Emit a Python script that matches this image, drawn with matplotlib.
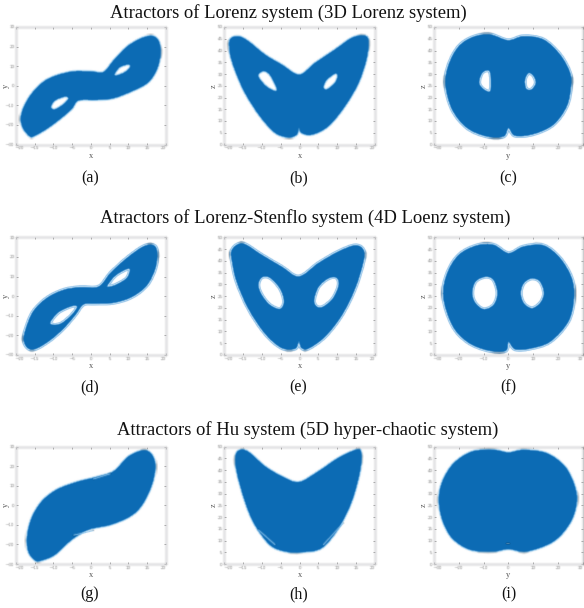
import numpy as np
import matplotlib
matplotlib.use("Agg")
import matplotlib.pyplot as plt
from matplotlib.path import Path
from matplotlib.patches import PathPatch

W, H = 584, 608
plt.rcParams['font.family'] = ['Liberation Serif', 'DejaVu Serif']

titles = ["Atractors of Lorenz system (3D Lorenz system)",
          "Atractors of Lorenz-Stenflo system (4D Loenz system)",
          "Attractors of Hu system (5D hyper-chaotic system)"]
captions = ["(a)", "(b)", "(c)", "(d)", "(e)", "(f)", "(g)", "(h)", "(i)"]
xlabels = ["x", "x", "y"] * 3
ylabels = ["y", "z", "z"] * 3

# outlines: (horizontal value, vertical value)
a_outer = [(-16.25,-25.9),(-18,-22),(-18.7,-16.9),(-17.9,-10.9),(-15.8,-4.1),(-12.7,1.9),(-9.1,5.3),(-4.6,7.3),(-0.2,7.3),(3.4,7),(6.1,12.9),(9.6,19.8),(13.2,24),(16.3,25.4),(18.1,22.8),(18.6,16.4),(17.7,8.7),(15.4,1.9),(11.4,-2.4),(6.1,-6.3),(1.6,-7.2),(-3.3,-7.5),(-5.1,-11.8),(-8.2,-16.9),(-11.8,-22),(-14.9,-25.4)]
a_hole1 = [(-10.7,-10.9),(-9.6,-7.5),(-6.9,-5.5),(-6,-6.6),(-7.3,-9.5),(-9.6,-12.1)]
a_hole2 = [(6.3,5.8),(7.7,9.5),(10.1,10.9),(10.5,9.5),(9.2,7),(7.1,5.3)]

b_outer = [(-18.5,44.6),(-16.3,46),(-13.6,43.9),(-9.2,38.2),(-4.8,34),(-0.1,29.7),(4.1,34.7),(9.4,40.4),(13.8,45.3),(16.9,46.3),(18.2,44.6),(17.8,36.8),(15.6,26.2),(12,16.3),(7.6,7.8),(3.2,4.2),(0.5,5),(-0.2,7.1),(-0.8,4.2),(-3,3.1),(-6.5,5),(-10.5,12),(-14.5,22),(-17.2,31.9),(-18.5,39)]
b_hole1 = [(-11,29.7),(-9.6,31.3),(-7.9,29.7),(-6.1,24.1),(-6.5,22.7),(-8.8,24.6),(-10.5,27.6)]
b_hole2 = [(6.3,24.5),(7.2,27.6),(9.4,30.2),(10.1,29.3),(9.4,26.2),(7.2,23.4)]

c_outer = [(-25.3,25.5),(-24,34),(-19.9,41.8),(-13.9,45.8),(-7.2,46.7),(-0.1,44.3),(6.2,46),(14.2,44.6),(20.9,38.2),(24.9,30.5),(25.3,24.8),(23.6,16.3),(18.2,8.5),(10.2,4.5),(2.8,3.8),(0.1,7.1),(-1.9,3.5),(-8.6,3.5),(-16.6,7.1),(-22.6,14.9)]
c_hole1 = [(-11.8,26.2),(-10.6,30.5),(-7.9,31.6),(-7,29),(-7.2,22.7),(-9.9,23.4)]
c_hole2 = [(6.7,27.6),(8.2,30.5),(10.2,29.3),(11.2,26.2),(9.5,23.4),(7.2,23.7)]

d_outer = [(-16.7,-26.6),(-17.9,-22.4),(-17.3,-16.4),(-15.4,-7.9),(-11.8,-1.1),(-7.3,3.1),(-2.9,4.5),(2.1,4.8),(5.2,11.6),(9.6,19.3),(14.1,25.3),(16.8,25.8),(17.7,21.9),(17.2,14.2),(15,5.7),(11,-0.3),(6.1,-3.3),(1.2,-3.7),(-2,-4.2),(-4.2,-9.6),(-7.3,-16.4),(-10.9,-22.4),(-14.5,-26.6)]
d_hole1 = [(-10.9,-13.4),(-8.7,-8.2),(-5.1,-5),(-3.6,-5.4),(-5.1,-9.6),(-7.8,-13.9),(-10,-14.7)]
d_hole2 = [(4.3,5.2),(6.5,10.5),(9.6,13.9),(10.5,13.4),(9.6,9.1),(7,6),(5.2,4.8)]

e_outer = [(-18.1,43.9),(-16.7,46.7),(-14.5,47),(-10.1,42.5),(-4.8,37.5),(-0.2,33.3),(5,39),(10.3,43.9),(14.7,46.5),(16.9,44.6),(16.9,39.7),(14.7,28.3),(11.2,17),(6.7,7.8),(2.3,2.8),(0.5,3.1),(-0.2,5.9),(-1.2,2.8),(-4.8,3.1),(-9.2,9.2),(-13.6,19.8),(-16.7,31.2),(-17.9,39.7)]
e_hole1 = [(-11,29.7),(-10.1,33),(-7.9,32.9),(-5.2,28.3),(-4.1,22.7),(-5.2,19.5),(-7.9,21.2),(-10.1,25.5)]
e_hole2 = [(3.8,23.4),(5,29),(7.6,32.6),(9.8,32.9),(10.4,29.7),(8.9,24.1),(6.3,20.5),(4.5,20.5)]

f_outer = [(-26.2,24.8),(-24.6,34.7),(-19.9,42.5),(-12.6,46.5),(-5.9,46.7),(0.1,43.2),(6.2,46),(14.2,46.5),(20.9,41.1),(25.6,32.6),(26.5,24.1),(24.2,14.2),(16.9,5.7),(8.8,2.8),(2.8,2.5),(0.1,5.7),(-1.2,1.8),(-8.6,2.1),(-16.6,5.7),(-22.6,12.7)]
f_hole1 = [(-14.6,26.2),(-13.3,31.2),(-9.2,33.3),(-5.9,31.9),(-4.3,26.2),(-5.9,21.2),(-9.9,19.4),(-13.3,22)]
f_hole2 = [(5,26.2),(6.2,30.5),(9.5,32.6),(12.9,31.2),(14.5,26.2),(12.9,22),(9.5,19.8),(6.2,22)]

g_outer = [(-14.9,-28.1),(-16.7,-23.5),(-17,-15.8),(-15.8,-6.5),(-13.1,2),(-9.1,8),(-3.8,11.9),(1.6,14.5),(6.1,17.4),(10.1,25),(14.1,28.1),(16.3,25.9),(17.2,19.9),(16.3,10.6),(13.7,0.3),(10.5,-5.6),(5.2,-9.9),(-0.6,-12.4),(-5.1,-17.5),(-9.6,-25.2),(-13.1,-28.1)]
h_outer = [(-16.9,46.6),(-15.4,48.7),(-13.2,47.3),(-9.2,41.6),(-4.8,37.4),(-0.2,34.9),(5,39.5),(10.3,45.2),(15.1,48.7),(16.3,47.3),(16,39.5),(13.8,26.7),(10.3,15.3),(5.8,6.8),(0.5,5.1),(-3.9,5.4),(-7.9,8.2),(-11.9,16.8),(-14.5,26.7),(-16.7,39.5)]
i_outer = [(-28,27.3),(-26.6,35.1),(-22,42.9),(-14.6,47.9),(-5.9,48.6),(0.1,47.5),(6.2,48.6),(15.5,47.2),(22.9,41.5),(26.9,33),(27.6,25.9),(24.9,17.4),(18.2,9.6),(7.5,5.4),(0.1,6.4),(-5.9,5.4),(-15.3,6.1),(-22.6,11),(-26.6,18.8)]

# pale streaks visible inside the filled regions
g_streaks = [[(0.7,13.5),(5.2,16.2)], [(-4.6,-15.3),(0.7,-12.9)]]
h_streaks = [[(-11,14.6),(-6.5,8.2)], [(6.3,8.2),(11.6,17.5)]]
i_streaks = [[(-1,8.9),(0.4,8.9)]]

panels = [(a_outer, [a_hole1, a_hole2], []), (b_outer, [b_hole1, b_hole2], []), (c_outer, [c_hole1, c_hole2], []),
          (d_outer, [d_hole1, d_hole2], []), (e_outer, [e_hole1, e_hole2], []), (f_outer, [f_hole1, f_hole2], []),
          (g_outer, [], g_streaks), (h_outer, [], h_streaks), (i_outer, [], i_streaks)]

x_ticks = {"x": np.arange(-20, 21, 5), "y": np.arange(-30, 31, 10)}
v_ticks = {"y": np.arange(-30, 31, 10), "z": np.arange(0, 51, 5)}
limits = {"x": (-20, 20), "y": (-30, 30), "z": (0, 50)}

# layout in pixels: left, right, top, bottom
col_px = [(16, 165.7), (224.3, 375), (434, 582.5)]
row_px = [(27, 144.5), (237.3, 355), (446.7, 564)]
title_px = [(288.5, 13), (305.5, 218), (308, 430)]
cap_x = [90, 298.5, 508.5]
cap_y = [178, 387, 594]

BLUE, SPINE, TICK = '#0c6bb5', '#dcdce0', '#8a8a8a'
# ring layers around each attractor: (line width, colour)
soft_rings = [(2.4, '#d6eaf8'), (1.5, '#8cc5ec')]
line_rings = [(2.8, '#4f9edb'), (2.0, '#cfe6f7'), (1.0, '#6fb2e4')]
ring_style = [soft_rings, soft_rings, line_rings,
              line_rings, line_rings, line_rings,
              soft_rings, soft_rings, soft_rings]


class Blur:
    """Soft small gaussian blur, for the washed out look of the scan."""
    def __init__(self, sigma):
        self.sigma = sigma

    def __call__(self, im, dpi):
        r = int(np.ceil(self.sigma * 3))
        k = np.exp(-0.5 * (np.arange(-r, r + 1) / self.sigma) ** 2)
        k /= k.sum()
        out = np.pad(im, ((r, r), (r, r), (0, 0)))
        out = np.apply_along_axis(lambda v: np.convolve(v, k, mode='same'), 0, out)
        out = np.apply_along_axis(lambda v: np.convolve(v, k, mode='same'), 1, out)
        return out, -r, -r


def smooth_path(pts):
    """Closed path through the read points, with Catmull-Rom style tangents."""
    p = np.array(pts, float)
    n = len(p)
    verts, codes = [p[0]], [Path.MOVETO]
    for k in range(n):
        p0, p1, p2, p3 = p[(k - 1) % n], p[k], p[(k + 1) % n], p[(k + 2) % n]
        verts += [p1 + (p2 - p0) / 6, p2 - (p3 - p1) / 6, p2]
        codes += [Path.CURVE4] * 3
    return np.array(verts), codes


def area(pts):
    p = np.array(pts, float)
    return 0.5 * np.sum(p[:, 0] * np.roll(p[:, 1], -1) - np.roll(p[:, 0], -1) * p[:, 1])


def compound(outer, holes):
    v, c = smooth_path(outer)
    sign = area(outer)
    for h in holes:
        hh = h if area(h) * sign < 0 else h[::-1]
        hv, hc = smooth_path(hh)
        v = np.vstack([v, hv])
        c = c + hc
    return Path(v, c)


fig = plt.figure(figsize=(W / 100, H / 100), dpi=100, facecolor='white')
soft = Blur(0.55)

for idx, (outer, holes, streaks) in enumerate(panels):
    r, cidx = divmod(idx, 3)
    l, rt = col_px[cidx]
    t, b = row_px[r]
    ax = fig.add_axes([l / W, 1 - b / H, (rt - l) / W, (b - t) / H])
    xn, yn = xlabels[idx], ylabels[idx]
    ax.set_xlim(*limits[xn])
    ax.set_ylim(*limits[yn])
    ax.set_xticks(x_ticks[xn])
    ax.set_yticks(v_ticks[yn])
    ax.tick_params(direction='in', length=1.5, width=0.5, color=TICK, labelcolor=TICK,
                   labelsize=2.9, pad=1.2, top=True, right=True)
    for s in ax.spines.values():
        s.set_color(SPINE)
        s.set_linewidth(0.8)
        s.set_agg_filter(soft)
    fig.canvas.draw()
    x_labs = ax.get_xticklabels()
    for lab in x_labs + ax.get_yticklabels():
        lab.set_family('DejaVu Sans')
        lab.set_agg_filter(soft)
    x_labs[0].set_ha('left')
    x_labs[-1].set_ha('right')
    ax.set_xlabel(xn, fontsize=6, color='#555555')
    ax.set_ylabel(yn, fontsize=6, color='#555555', rotation=90)
    ax.xaxis.set_label_coords(0.5, -0.095, transform=ax.transAxes)
    ax.yaxis.set_label_coords(-0.068, 0.5, transform=ax.transAxes)
    ax.xaxis.label.set_va('center')
    ax.yaxis.label.set_va('center')
    path = compound(outer, holes)
    z = 2
    for lw, col in ring_style[idx]:
        ax.add_patch(PathPatch(path, facecolor=BLUE, edgecolor=col, lw=lw, joinstyle='round',
                               zorder=z, agg_filter=soft))
        z += 1
    ax.add_patch(PathPatch(path, facecolor=BLUE, edgecolor=BLUE, lw=0.3, joinstyle='round',
                           zorder=z, agg_filter=soft))
    for st in streaks:
        sx, sy = zip(*st)
        ax.plot(sx, sy, color='#7fbce8', lw=0.7, zorder=z + 1, solid_capstyle='round', agg_filter=soft)
    fig.text(cap_x[cidx] / W, 1 - cap_y[r] / H, captions[idx], fontsize=11.5,
             ha='center', va='center', color='#111111')

for text, (tx, ty) in zip(titles, title_px):
    fig.text(tx / W, 1 - ty / H, text, fontsize=13.45, ha='center', va='center', color='#111111')

fig.savefig('out.png', dpi=100)
